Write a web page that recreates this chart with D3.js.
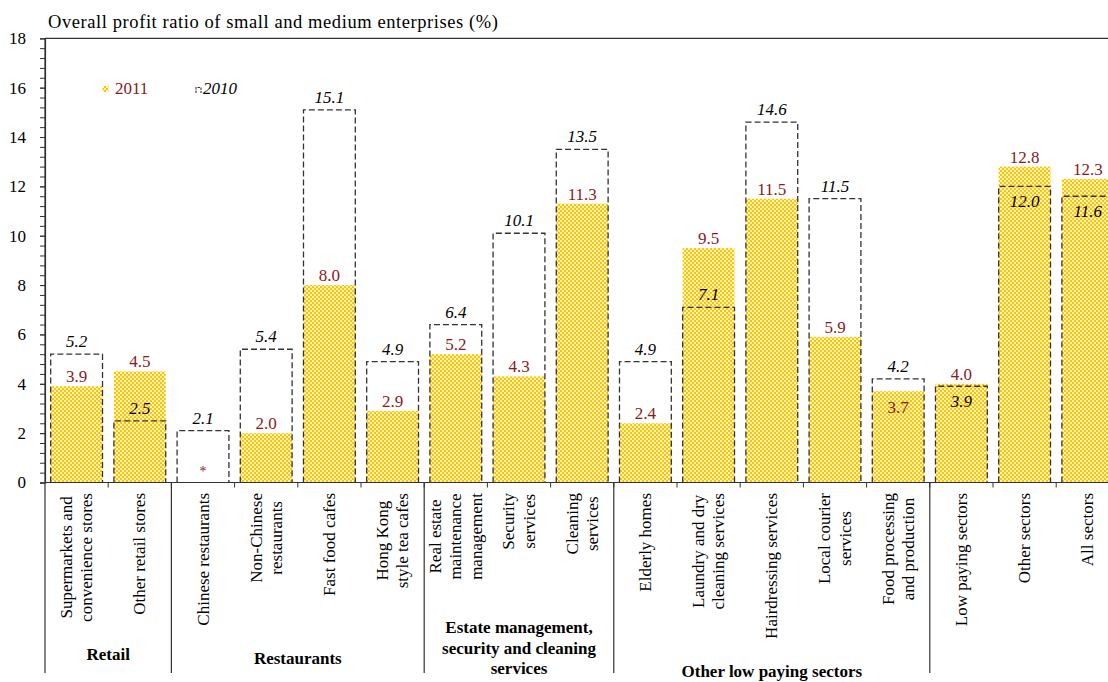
<!DOCTYPE html>
<html>
<head>
<meta charset="utf-8">
<script src="https://cdn.jsdelivr.net/npm/d3@7"></script>
<style>
  html, body { margin: 0; padding: 0; background: #fff; }
  svg { display: block; }
  svg text { font-family: "Liberation Serif", "DejaVu Serif", serif; }
</style>
</head>
<body>
<svg id="chart" width="1108" height="682"></svg>
<script>
// Sector names ("\n" marks a line break in the rotated axis label)
const categories = [
  "Supermarkets and\nconvenience stores",
  "Other retail stores",
  "Chinese restaurants",
  "Non-Chinese\nrestaurants",
  "Fast food cafes",
  "Hong Kong\nstyle tea cafes",
  "Real estate\nmaintenance\nmanagement",
  "Security\nservices",
  "Cleaning\nservices",
  "Elderly homes",
  "Laundry and dry\ncleaning services",
  "Hairdressing services",
  "Local courier\nservices",
  "Food processing\nand production",
  "Low paying sectors",
  "Other sectors",
  "All sectors"
];

// Overall profit ratio (%), 2011 (null = not released, shown as "*")
const values2011 = [3.9, 4.5, null, 2.0, 8.0, 2.9, 5.2, 4.3, 11.3, 2.4, 9.5, 11.5, 5.9, 3.7, 4.0, 12.8, 12.3];
// Overall profit ratio (%), 2010
const values2010 = [5.2, 2.5, 2.1, 5.4, 15.1, 4.9, 6.4, 10.1, 13.5, 4.9, 7.1, 14.6, 11.5, 4.2, 3.9, 12.0, 11.6];

// Where each value label sits relative to the top of its bar
const labelPos2011 = ["above","above","above","above","above","above","above","above","above","above","above","above","above","below","above","above","above"];
const labelPos2010 = ["above","above","above","above","above","above","above","above","above","above","above","above","above","above","below","below","below"];

// Sector groups along the axis
const groupNames = ["Retail", "Restaurants", "Estate management,\nsecurity and cleaning\nservices", "Other low paying sectors", ""];
const groupSizes = [2, 4, 3, 5, 3];

const yTicks = [0, 2, 4, 6, 8, 10, 12, 14, 16, 18];
const yMinorTicks = d3.range(0, 45).map(i => +(i * 0.4).toFixed(1));

const titleText = "Overall profit ratio of small and medium enterprises (%)";
const legendLabels = ["2011", "2010"];

// ---- layout ----
const W = 1108, H = 682;
const plotLeft = 45, plotTop = 38.3, plotBottom = 482.5;
const step = 63.2;
const RED = "#8B1A1A";
const AXIS = "#333";
const FONT = 17;

const svg = d3.select("#chart");

// Gold checkerboard fill used for the 2011 bars
const defs = svg.append("defs");
const pat = defs.append("pattern")
  .attr("id", "gold").attr("patternUnits", "userSpaceOnUse")
  .attr("width", 4).attr("height", 4);
pat.append("rect").attr("width", 4).attr("height", 4).attr("fill", "#FFC400");
pat.append("rect").attr("x", 0).attr("y", 0).attr("width", 2).attr("height", 2).attr("fill", "#FFF4C0");
pat.append("rect").attr("x", 2).attr("y", 2).attr("width", 2).attr("height", 2).attr("fill", "#FFF4C0");

const x = d3.scaleBand()
  .domain(categories)
  .range([plotLeft, plotLeft + step * categories.length])
  .paddingInner(0.18)
  .paddingOuter(0.09);

const y = d3.scaleLinear().domain([0, 18]).range([plotBottom, plotTop]);

// Title
svg.append("text")
  .attr("x", 48).attr("y", 28.3)
  .attr("font-size", 18.5).attr("fill", "#000")
  .attr("textLength", 450).attr("lengthAdjust", "spacing")
  .text(titleText);

// Top frame line
svg.append("line")
  .attr("x1", plotLeft).attr("x2", W).attr("y1", plotTop).attr("y2", plotTop)
  .attr("stroke", AXIS).attr("stroke-width", 1.2);

// 2011 bars
const bars = svg.append("g");
bars.selectAll("rect.y2011")
  .data(categories.map((c, i) => ({ c, v: values2011[i] })).filter(d => d.v != null))
  .join("rect")
  .attr("class", "y2011")
  .attr("x", d => x(d.c))
  .attr("width", x.bandwidth())
  .attr("y", d => y(d.v))
  .attr("height", d => y(0) - y(d.v))
  .attr("fill", "url(#gold)");

// 2010 bars: dashed outline
bars.selectAll("path.y2010")
  .data(categories.map((c, i) => ({ c, v: values2010[i] })))
  .join("path")
  .attr("class", "y2010")
  .attr("d", d => {
    const x0 = x(d.c), x1 = x(d.c) + x.bandwidth();
    return `M${x0},${y(0)}V${y(d.v)}H${x1}V${y(0)}`;
  })
  .attr("fill", "none")
  .attr("stroke", "#333")
  .attr("stroke-width", 1.3)
  .attr("stroke-dasharray", "6,3");

// Value labels
const labels = svg.append("g").attr("font-size", FONT).attr("text-anchor", "middle");
categories.forEach((c, i) => {
  const cx = x(c) + x.bandwidth() / 2;
  const v1 = values2011[i];
  if (v1 == null) {
    labels.append("text")
      .attr("x", cx).attr("y", y(0) - 7)
      .attr("fill", RED).attr("font-size", 14)
      .text("*");
  } else {
    const ty = labelPos2011[i] === "above" ? y(v1) - 4 : y(v1) + 22;
    labels.append("text")
      .attr("x", cx).attr("y", ty)
      .attr("fill", RED)
      .text(v1.toFixed(1));
  }
  const v0 = values2010[i];
  const ty0 = labelPos2010[i] === "above" ? y(v0) - 7 : y(v0) + 21;
  labels.append("text")
    .attr("x", cx).attr("y", ty0)
    .attr("fill", "#000").attr("font-style", "italic")
    .text(v0.toFixed(1));
});

// Y axis with minor ticks
svg.append("g")
  .attr("transform", `translate(${plotLeft},0)`)
  .call(d3.axisLeft(y).tickValues(yMinorTicks).tickSize(5).tickFormat(""))
  .call(g => g.select(".domain").remove())
  .call(g => g.selectAll("line").attr("stroke", AXIS));

const yAxis = svg.append("g")
  .attr("transform", `translate(${plotLeft},0)`)
  .call(d3.axisLeft(y).tickValues(yTicks).tickSize(5).tickPadding(14).tickFormat(d3.format("d")));
yAxis.attr("font-family", null);
yAxis.select(".domain").attr("stroke", AXIS).attr("stroke-width", 1.2);
yAxis.selectAll("line").attr("stroke", AXIS);
yAxis.selectAll("text")
  .attr("font-size", FONT)
  .attr("fill", "#000");

// X axis line and category ticks
svg.append("line")
  .attr("x1", plotLeft).attr("x2", W).attr("y1", y(0)).attr("y2", y(0))
  .attr("stroke", AXIS).attr("stroke-width", 1.2);
svg.append("g").selectAll("line")
  .data(d3.range(1, categories.length + 1))
  .join("line")
  .attr("x1", i => plotLeft + i * step).attr("x2", i => plotLeft + i * step)
  .attr("y1", y(0)).attr("y2", y(0) + 5)
  .attr("stroke", AXIS);

// Group separator lines
const groupEdges = [0];
groupSizes.forEach(s => groupEdges.push(groupEdges[groupEdges.length - 1] + s));
svg.append("g").selectAll("line")
  .data(groupEdges.slice(0, -1))
  .join("line")
  .attr("x1", k => plotLeft + k * step).attr("x2", k => plotLeft + k * step)
  .attr("y1", k => k === 0 ? plotTop : y(0)).attr("y2", 673)
  .attr("stroke", AXIS).attr("stroke-width", 1.2);

// Rotated category labels
const lineH = 20.5;
const catBottoms = [];
categories.forEach((c, i) => {
  const lines = c.split("\n");
  const cx = x(c) + x.bandwidth() / 2;
  const t = svg.append("text")
    .attr("font-size", FONT).attr("text-anchor", "middle").attr("fill", "#000");
  lines.forEach((ln, j) => {
    t.append("tspan")
      .attr("x", 0)
      .attr("y", (j - (lines.length - 1) / 2) * lineH + FONT * 0.33)
      .text(ln);
  });
  const maxLen = d3.max(t.selectAll("tspan").nodes(), n => n.getComputedTextLength());
  const cy = y(0) + 10.5 + maxLen / 2;
  t.attr("transform", `translate(${cx},${cy}) rotate(-90)`);
  catBottoms.push(cy + maxLen / 2);
});

// Group labels (bold), pushed below long category labels when needed
groupNames.forEach((g, k) => {
  if (!g) return;
  const i0 = groupEdges[k], i1 = groupEdges[k + 1];
  const cx = plotLeft + (i0 + i1) / 2 * step;
  const lines = g.split("\n");
  const blockH = lines.length * lineH;
  const maxBottom = d3.max(catBottoms.slice(i0, i1));
  const topY = Math.max(648 - blockH / 2, maxBottom + 22);
  const t = svg.append("text")
    .attr("font-size", FONT).attr("font-weight", "bold")
    .attr("text-anchor", "middle").attr("fill", "#000");
  lines.forEach((ln, j) => {
    t.append("tspan")
      .attr("x", cx)
      .attr("y", topY + j * lineH + lineH / 2 + FONT * 0.33)
      .text(ln);
  });
});

// Legend
const lg = svg.append("g").attr("font-size", FONT);
lg.append("rect").attr("x", 102.5).attr("y", 86).attr("width", 6).attr("height", 6).attr("fill", "url(#gold)");
lg.append("text").attr("x", 115).attr("y", 94).attr("fill", RED).text(legendLabels[0]);
lg.append("path").attr("d", "M196,93V87.5H201V93")
  .attr("fill", "none").attr("stroke", "#333").attr("stroke-width", 1.1).attr("stroke-dasharray", "2.5,1");
lg.append("text").attr("x", 203).attr("y", 94).attr("fill", "#000").attr("font-style", "italic").text(legendLabels[1]);
</script>
</body>
</html>
